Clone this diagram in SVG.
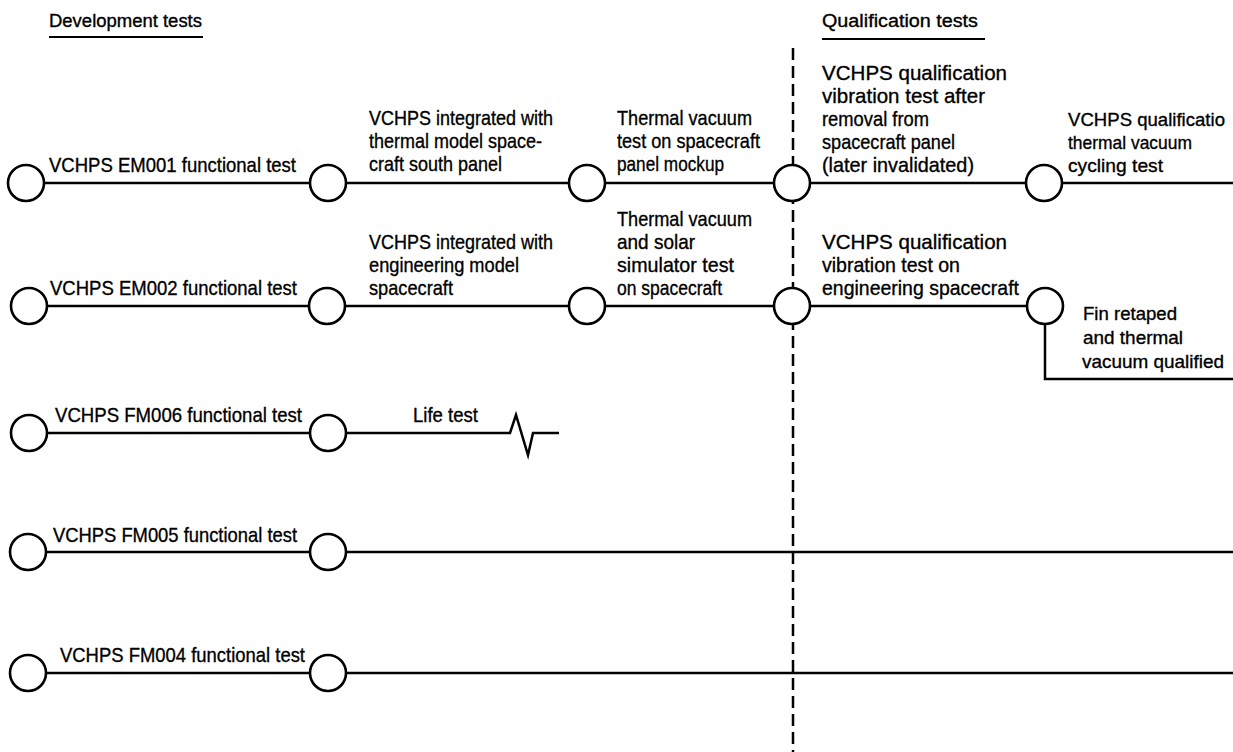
<svg xmlns="http://www.w3.org/2000/svg" width="1233" height="752" viewBox="0 0 1233 752">
<style>
text{font-family:"Liberation Sans Narrow","Liberation Sans",Arial,sans-serif;font-size:21px;fill:#000;stroke:#000;stroke-width:0.35}
.h{font-size:18px}
.r{font-size:19px}
.ln{fill:none;stroke:#000;stroke-width:2.5}
.dash{fill:none;stroke:#000;stroke-width:2.5;stroke-dasharray:12 6}
.n circle{fill:#fff;stroke:#000;stroke-width:2.6}
</style>
<rect width="1233" height="752" fill="#fff"/>
<g id="headings">
<text class="h" x="49" y="27" textLength="153" lengthAdjust="spacingAndGlyphs">Development tests</text>
<line class="ln" x1="49" y1="37" x2="203" y2="37" style="stroke-width:2"/>
<text class="h" x="822" y="27" textLength="156" lengthAdjust="spacingAndGlyphs">Qualification tests</text>
<line class="ln" x1="822" y1="39" x2="985" y2="39" style="stroke-width:2"/>
</g>
<g id="connectors">
<line class="dash" x1="793" y1="48" x2="793" y2="752"/>
<path class="ln" d="M44 183H310M346 183H569M605 183H774M810 183H1026M1062 183H1233"/>
<path class="ln" d="M47 306H309M345 306H569M605 306H774M810 306H1027M1045 324V379H1233"/>
<path class="ln" d="M47 433H310M346 433H510L516 415L528 455L533 433H559"/>
<path class="ln" d="M46 552H310M346 552H1233"/>
<path class="ln" d="M46 673H310M346 673H1233"/>
</g>
<g id="labels">
<text x="49" y="172" textLength="247" lengthAdjust="spacingAndGlyphs">VCHPS EM001 functional test</text>
<text x="369" y="125" textLength="184" lengthAdjust="spacingAndGlyphs">VCHPS integrated with</text>
<text x="369" y="148" textLength="173" lengthAdjust="spacingAndGlyphs">thermal model space-</text>
<text x="369" y="171" textLength="133" lengthAdjust="spacingAndGlyphs">craft south panel</text>
<text x="617" y="125" textLength="135" lengthAdjust="spacingAndGlyphs">Thermal vacuum</text>
<text x="617" y="148" textLength="143" lengthAdjust="spacingAndGlyphs">test on spacecraft</text>
<text x="617" y="171" textLength="107" lengthAdjust="spacingAndGlyphs">panel mockup</text>
<text x="822" y="80" textLength="185" lengthAdjust="spacingAndGlyphs">VCHPS qualification</text>
<text x="822" y="103" textLength="163" lengthAdjust="spacingAndGlyphs">vibration test after</text>
<text x="822" y="126" textLength="107" lengthAdjust="spacingAndGlyphs">removal from</text>
<text x="822" y="149" textLength="133" lengthAdjust="spacingAndGlyphs">spacecraft panel</text>
<text x="822" y="172" textLength="152" lengthAdjust="spacingAndGlyphs">(later invalidated)</text>
<text class="r" x="1068" y="126" textLength="157" lengthAdjust="spacingAndGlyphs">VCHPS qualificatio</text>
<text class="r" x="1068" y="149" textLength="124" lengthAdjust="spacingAndGlyphs">thermal vacuum</text>
<text class="r" x="1068" y="172" textLength="95" lengthAdjust="spacingAndGlyphs">cycling test</text>

<text x="50" y="295" textLength="247" lengthAdjust="spacingAndGlyphs">VCHPS EM002 functional test</text>
<text x="369" y="249" textLength="184" lengthAdjust="spacingAndGlyphs">VCHPS integrated with</text>
<text x="369" y="272" textLength="150" lengthAdjust="spacingAndGlyphs">engineering model</text>
<text x="369" y="295" textLength="84" lengthAdjust="spacingAndGlyphs">spacecraft</text>
<text x="617" y="226" textLength="135" lengthAdjust="spacingAndGlyphs">Thermal vacuum</text>
<text x="617" y="249" textLength="78" lengthAdjust="spacingAndGlyphs">and solar</text>
<text x="617" y="272" textLength="117" lengthAdjust="spacingAndGlyphs">simulator test</text>
<text x="617" y="295" textLength="105" lengthAdjust="spacingAndGlyphs">on spacecraft</text>
<text x="822" y="249" textLength="185" lengthAdjust="spacingAndGlyphs">VCHPS qualification</text>
<text x="822" y="272" textLength="138" lengthAdjust="spacingAndGlyphs">vibration test on</text>
<text x="822" y="295" textLength="197" lengthAdjust="spacingAndGlyphs">engineering spacecraft</text>
<text class="r" x="1083" y="320" textLength="94" lengthAdjust="spacingAndGlyphs">Fin retaped</text>
<text class="r" x="1083" y="344" textLength="100" lengthAdjust="spacingAndGlyphs">and thermal</text>
<text class="r" x="1082" y="368" textLength="142" lengthAdjust="spacingAndGlyphs">vacuum qualified</text>

<text x="55" y="422" textLength="247" lengthAdjust="spacingAndGlyphs">VCHPS FM006 functional test</text>
<text x="413" y="422" textLength="65" lengthAdjust="spacingAndGlyphs">Life test</text>
<text x="53" y="542" textLength="244" lengthAdjust="spacingAndGlyphs">VCHPS FM005 functional test</text>
<text x="60" y="662" textLength="245" lengthAdjust="spacingAndGlyphs">VCHPS FM004 functional test</text>
</g>
<g id="r1n1" class="n"><circle cx="26" cy="183" r="18"/></g>
<g id="r1n2" class="n"><circle cx="328" cy="183" r="18"/></g>
<g id="r1n3" class="n"><circle cx="587" cy="183" r="18"/></g>
<g id="r1n4" class="n"><circle cx="792" cy="183" r="18"/></g>
<g id="r1n5" class="n"><circle cx="1044" cy="183" r="18"/></g>
<g id="r2n1" class="n"><circle cx="29" cy="306" r="18"/></g>
<g id="r2n2" class="n"><circle cx="327" cy="306" r="18"/></g>
<g id="r2n3" class="n"><circle cx="587" cy="306" r="18"/></g>
<g id="r2n4" class="n"><circle cx="792" cy="306" r="18"/></g>
<g id="r2n5" class="n"><circle cx="1045" cy="306" r="18"/></g>
<g id="r3n1" class="n"><circle cx="29" cy="433" r="18"/></g>
<g id="r3n2" class="n"><circle cx="328" cy="433" r="18"/></g>
<g id="r4n1" class="n"><circle cx="28" cy="552" r="18"/></g>
<g id="r4n2" class="n"><circle cx="328" cy="552" r="18"/></g>
<g id="r5n1" class="n"><circle cx="28" cy="673" r="18"/></g>
<g id="r5n2" class="n"><circle cx="328" cy="673" r="18"/></g>
</svg>
